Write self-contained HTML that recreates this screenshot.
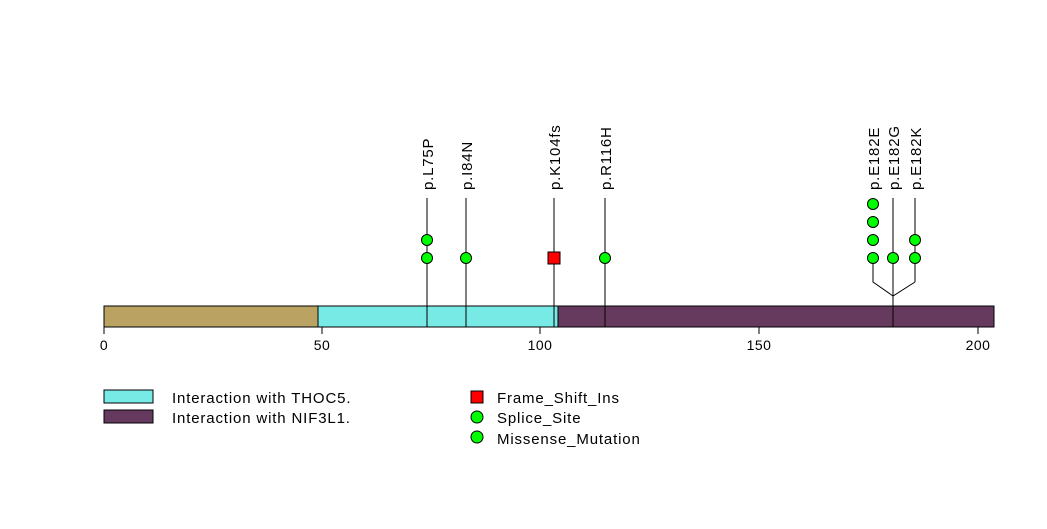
<!DOCTYPE html>
<html><head><meta charset="utf-8"><style>html,body{margin:0;padding:0;background:#fff}</style></head><body>
<svg width="1047" height="524" xmlns="http://www.w3.org/2000/svg" font-family="Liberation Sans, sans-serif">
<rect width="1047" height="524" fill="#fff"/>
<rect x="104" y="306" width="214" height="21" fill="#BAA362" stroke="#000"/>
<rect x="318" y="306" width="240" height="21" fill="#78EAE6" stroke="#000"/>
<rect x="558" y="306" width="436" height="21" fill="#663A5E" stroke="#000"/>
<g stroke="#000" stroke-width="1">
<line x1="104" y1="327" x2="104" y2="334"/><line x1="322" y1="327" x2="322" y2="334"/>
<line x1="540" y1="327" x2="540" y2="334"/><line x1="759" y1="327" x2="759" y2="334"/>
<line x1="978" y1="327" x2="978" y2="334"/>
<line x1="427" y1="198" x2="427" y2="327"/>
<line x1="466" y1="198" x2="466" y2="327"/>
<line x1="554" y1="198" x2="554" y2="327"/>
<line x1="605" y1="198" x2="605" y2="327"/>
<line x1="893" y1="198" x2="893" y2="327"/>
<line x1="915" y1="198" x2="915" y2="282"/>
<polyline points="873,258 873,282 893,296 915,282" fill="none"/>
</g>
<g font-size="14" text-anchor="middle" letter-spacing="0.5">
<text x="104" y="350">0</text><text x="322" y="350">50</text><text x="540" y="350">100</text><text x="759" y="350">150</text><text x="978" y="350">200</text>
</g>
<g fill="#00FF00" stroke="#000">
<circle cx="427" cy="258" r="5.5"/><circle cx="427" cy="240" r="5.5"/>
<circle cx="466" cy="258" r="5.5"/>
<circle cx="605" cy="258" r="5.5"/>
<circle cx="873" cy="258" r="5.5"/><circle cx="873" cy="240" r="5.5"/><circle cx="873" cy="222" r="5.5"/><circle cx="873" cy="204" r="5.5"/>
<circle cx="893" cy="258" r="5.5"/>
<circle cx="915" cy="258" r="5.5"/><circle cx="915" cy="240" r="5.5"/>
</g>
<rect x="548" y="252" width="12" height="12" fill="#FF0000" stroke="#000"/>
<g font-size="15" letter-spacing="0.8">
<text transform="translate(433,190) rotate(-90)">p.L75P</text>
<text transform="translate(472,190) rotate(-90)">p.I84N</text>
<text transform="translate(560,190) rotate(-90)">p.K104fs</text>
<text transform="translate(611,190) rotate(-90)">p.R116H</text>
<text transform="translate(879,190) rotate(-90)">p.E182E</text>
<text transform="translate(899,190) rotate(-90)">p.E182G</text>
<text transform="translate(921,190) rotate(-90)">p.E182K</text>
</g>
<rect x="104" y="390" width="49" height="13" fill="#78EAE6" stroke="#000"/>
<rect x="104" y="410" width="49" height="13" fill="#663A5E" stroke="#000"/>
<g font-size="15" letter-spacing="0.85">
<text x="172" y="403">Interaction with THOC5.</text>
<text x="172" y="423">Interaction with NIF3L1.</text>
<text x="497" y="403">Frame_Shift_Ins</text>
<text x="497" y="423">Splice_Site</text>
<text x="497" y="444">Missense_Mutation</text>
</g>
<rect x="471" y="391" width="12" height="12" fill="#FF0000" stroke="#000"/>
<circle cx="477" cy="417" r="6" fill="#00FF00" stroke="#000"/>
<circle cx="477" cy="437" r="6" fill="#00FF00" stroke="#000"/>
</svg>
</body></html>
